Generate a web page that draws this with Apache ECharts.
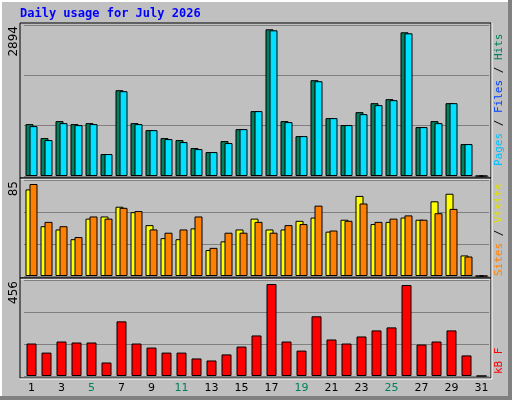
<!DOCTYPE html>
<html><head><meta charset="utf-8">
<script src="https://cdn.jsdelivr.net/npm/echarts@6/dist/echarts.min.js"></script>
<style>html,body{margin:0;padding:0;background:#C0C0C0}#c{width:512px;height:400px}</style>
</head><body><div id="c"></div>
<script>
const days = Array.from({length:31},(_,i)=>String(i+1));
const weekendDays = ['4','5','11','12','18','19','25','26'];
const hits  = [1024,748,1083,1024,1043,433,1693,1043,905,748,709,551,472,689,925,1280,2894,1083,787,1890,1142,1004,1260,1437,1516,2835,965,1083,1437,630,0];
const files = [984,709,1043,1004,1024,433,1673,1024,905,728,669,531,472,650,925,1280,2874,1063,787,1870,1142,1004,1220,1398,1496,2815,965,1043,1437,630,0];
const sites = [80,46,43,34,53,55,64,59,47,35,34,44,24,32,43,53,43,43,51,54,41,52,74,48,50,54,52,69,76,19,0];
const visits= [85,50,46,36,55,53,63,60,43,40,43,55,26,40,40,50,40,47,48,65,42,51,67,50,53,56,52,58,62,18,0];
const kbytes= [161,116,171,166,166,67,271,161,141,116,116,87,77,107,146,201,456,171,126,296,181,161,196,226,241,451,156,171,226,102,0];
const maxLabels = ['2894','85','456'];

const chart = echarts.init(document.getElementById('c'));
const grids = [
  {left:24,right:23,top:25,height:151},
  {left:24,right:23,top:180,height:96},
  {left:24,right:23,top:280,height:96}
];
const maxes=[2979,88.7,476];
const xAxes = grids.map((g,i)=>({
  type:'category',gridIndex:i,data:days,
  axisLine:{show:false},axisTick:{show:false},
  axisLabel:{show:i===2,margin:7,fontFamily:'DejaVu Sans',fontSize:11,
    color:(v)=>weekendDays.includes(v)?'#00805C':'#000'}
}));
const yAxes = grids.map((g,i)=>({
  type:'value',gridIndex:i,min:0,max:maxes[i],interval:maxes[i]/3,
  axisLabel:{show:false},axisLine:{show:false},axisTick:{show:false},
  splitLine:{show:true,lineStyle:{color:'#808080',width:1}}
}));
const bs={borderColor:'#000',borderWidth:1};
const series=[
  {type:'bar',xAxisIndex:0,yAxisIndex:0,data:hits,barWidth:8,barGap:'-50%',itemStyle:{color:'#00805C',...bs}},
  {type:'bar',xAxisIndex:0,yAxisIndex:0,data:files,barWidth:8,barGap:'-50%',itemStyle:{color:'#00E0FF',...bs}},
  {type:'bar',xAxisIndex:1,yAxisIndex:1,data:sites,barWidth:8,barGap:'-50%',itemStyle:{color:'#FFFF00',...bs}},
  {type:'bar',xAxisIndex:1,yAxisIndex:1,data:visits,barWidth:8,barGap:'-50%',itemStyle:{color:'#FF8000',...bs}},
  {type:'bar',xAxisIndex:2,yAxisIndex:2,data:kbytes,barWidth:10,itemStyle:{color:'#FF0000',...bs}}
];
const mono='DejaVu Sans Mono';
const graphic=[
  // outer bevel
  {type:'rect',shape:{x:0,y:0,width:512,height:2},style:{fill:'#FFFFFF'},z:-1},
  {type:'rect',shape:{x:0,y:0,width:2,height:400},style:{fill:'#FFFFFF'},z:-1},
  {type:'rect',shape:{x:0,y:396,width:512,height:4},style:{fill:'#808080'},z:-1},
  {type:'rect',shape:{x:508,y:0,width:4,height:400},style:{fill:'#808080'},z:-1},
  {type:'text',left:20,top:8,style:{text:'Daily usage for July 2026',fill:'#0000FF',font:'bold 12px "DejaVu Sans Mono"'}},
];
const frames=[[20,23,471,155],[20,178,471,100],[20,278,471,100]];
frames.forEach(f=>{
  graphic.push({type:'rect',shape:{x:f[0],y:f[1],width:f[2],height:f[3]},style:{fill:'none',stroke:'#000',lineWidth:1},z:100});
  graphic.push({type:'line',shape:{x1:f[0]+f[2]+1,y1:f[1],x2:f[0]+f[2]+1,y2:f[1]+f[3]+1},style:{stroke:'#FFFFFF',lineWidth:1},z:100});
  graphic.push({type:'line',shape:{x1:f[0],y1:f[1]+f[3]+1,x2:f[0]+f[2]+1,y2:f[1]+f[3]+1},style:{stroke:'#FFFFFF',lineWidth:1},z:100});
});
[[14,26],[14,181],[14,281]].forEach((p,i)=>{
  graphic.push({type:'text',x:p[0],y:p[1],rotation:Math.PI/2,
    style:{text:maxLabels[i],fill:'#000',font:'12px "DejaVu Sans"',align:'right',verticalAlign:'middle'}});
});
function rl(x,y,parts){
  graphic.push({type:'text',x:x,y:y,rotation:Math.PI/2,
    style:{text:parts.map(p=>'{'+p[1]+'|'+p[0]+'}').join(''),align:'left',verticalAlign:'middle',
      rich:{a:{fill:'#00C0FF',font:'11px "DejaVu Sans Mono"'},b:{fill:'#0040FF',font:'11px "DejaVu Sans Mono"'},
            c:{fill:'#00805C',font:'11px "DejaVu Sans Mono"'},k:{fill:'#000',font:'11px "DejaVu Sans Mono"'},
            o:{fill:'#FF8000',font:'11px "DejaVu Sans Mono"'},y:{fill:'#E0E000',font:'11px "DejaVu Sans Mono"'},
            r:{fill:'#FF0000',font:'11px "DejaVu Sans Mono"'}}}});
}
rl(499,166,[['Pages','a'],[' / ','k'],['Files','b'],[' / ','k'],['Hits','c']]);
rl(499,276,[['Sites','o'],[' / ','k'],['Visits','y']]);
rl(499,374,[['kB F','r']]);
chart.setOption({backgroundColor:'#C0C0C0',animation:false,grid:grids,xAxis:xAxes,yAxis:yAxes,series,graphic});
</script></body></html>
